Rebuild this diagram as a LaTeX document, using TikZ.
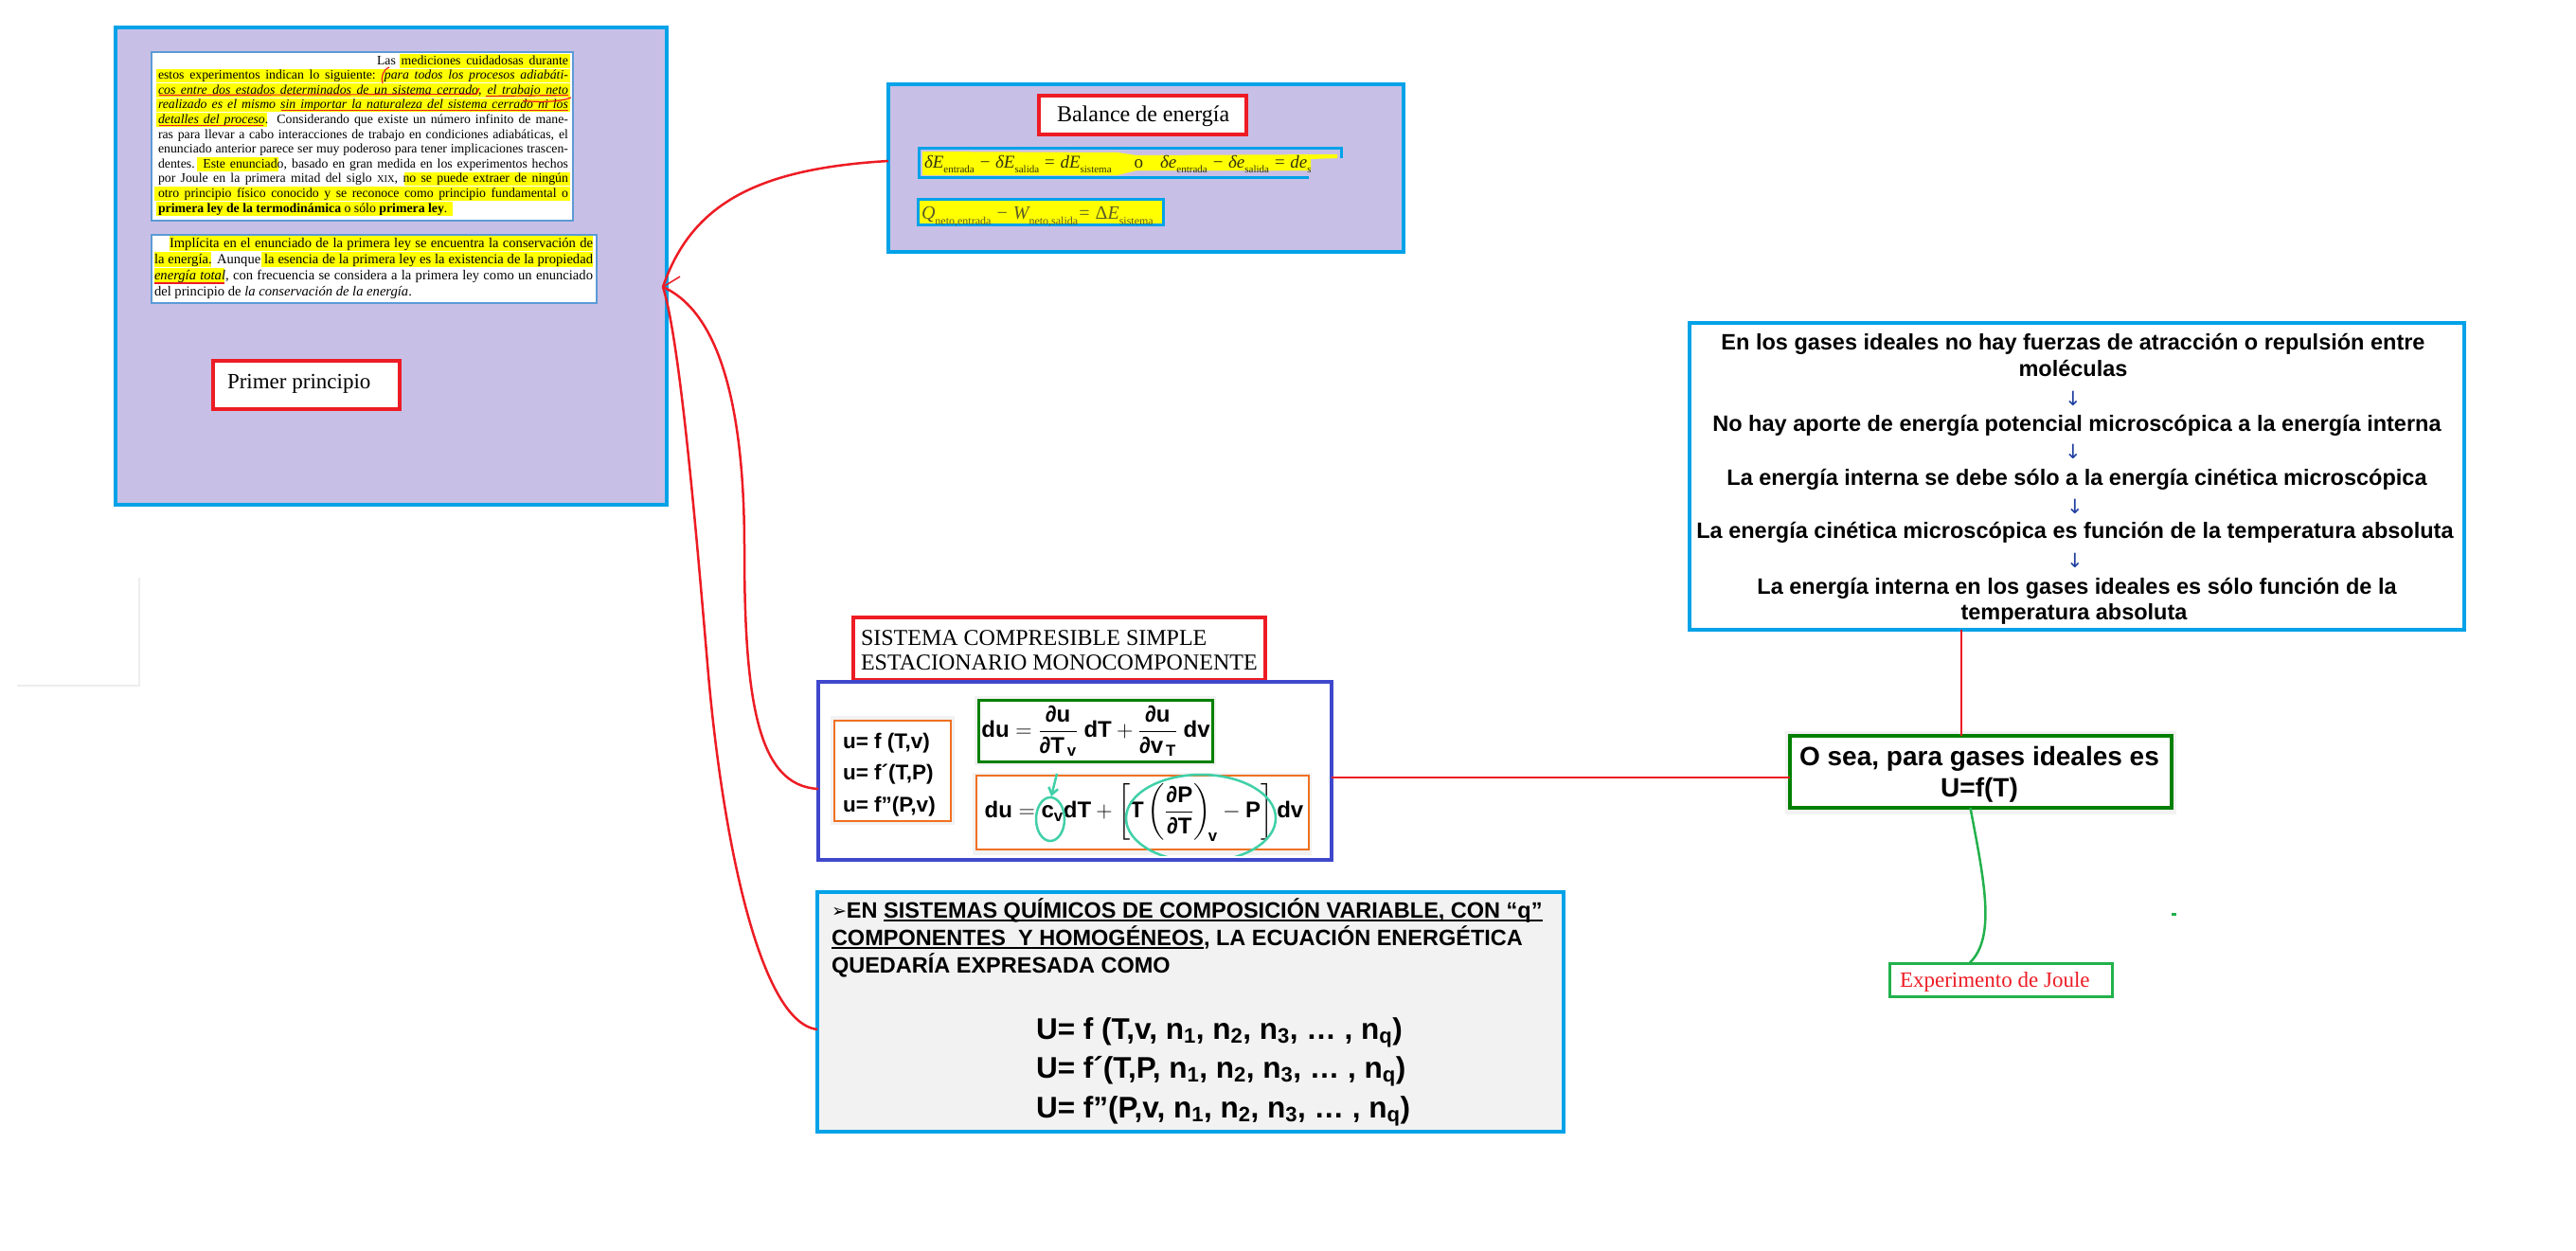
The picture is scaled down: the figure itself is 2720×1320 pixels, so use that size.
\RequirePackage{fix-cm}
\documentclass[tikz,border=0pt]{standalone}
\usepackage{fontspec}
\setmainfont{Liberation Serif}
\setsansfont{Liberation Sans}
\newfontfamily\symfont{DejaVu Sans}
\usepackage{amsmath}
\usetikzlibrary{fit,arrows.meta}

\definecolor{lav}{HTML}{C8BFE7}
\definecolor{cyanb}{HTML}{00A2E8}
\definecolor{redb}{HTML}{ED1C24}
\definecolor{indig}{HTML}{3F48CC}
\definecolor{orng}{HTML}{F07020}
\definecolor{dgreen}{HTML}{008000}
\definecolor{lgreen}{HTML}{22B14C}
\definecolor{tealc}{HTML}{40D0A8}
\definecolor{paleg}{HTML}{F2F2F2}
\definecolor{parline}{HTML}{5B9BD5}
\definecolor{hly}{HTML}{FFFF00}
\definecolor{navy}{HTML}{2040A0}
\definecolor{olivedk}{HTML}{34340E}
\definecolor{olivemd}{HTML}{5C5C28}

\newcommand\fsz[1]{\fontsize{#1}{#1}\selectfont}
% upright lowered index for the balance equations
\newcommand\subup[2]{\raisebox{-0.3em}{\upshape\fontsize{#1}{#1}\selectfont #2}}
% underline with a thick rule
\newsavebox\ulbox
\newcommand\ulx[1]{\sbox\ulbox{#1}\rlap{\rule[-3.8pt]{\wd\ulbox}{1.6pt}}\usebox\ulbox}

\begin{document}
\begin{tikzpicture}[x=1pt,y=-1pt,
  every node/.style={inner sep=0pt, outer sep=0pt},
  panel/.style={draw=cyanb, line width=4pt, fill=lav},
  parbox/.style={draw=parline, line width=1.2pt, fill=white},
  redbox/.style={draw=redb, line width=3.5pt, fill=white},
  indbox/.style={draw=indig, line width=3.5pt, fill=white},
  orbox/.style={draw=orng, line width=1.5pt, fill=white},
  gbox/.style={draw=dgreen, line width=3pt, fill=white},
  chembox/.style={draw=cyanb, line width=4pt, fill=paleg},
  gasbox/.style={draw=cyanb, line width=4pt, fill=white},
  resbox/.style={draw=dgreen, line width=4pt, fill=white},
  joulebox/.style={draw=lgreen, line width=3pt, fill=white},
  eqbox/.style={draw=cyanb, line width=3pt, fill=hly},
  hl/.style={fill=hly},
  pen/.style={draw=redb, line width=1.2pt},
  redcon/.style={draw=redb, line width=2.5pt},
  greencon/.style={draw=lgreen, line width=2.5pt},
  tealline/.style={draw=tealc, line width=2.5pt},
  tline/.style={anchor=base west, font=\fsz{13.8}},
  tlineb/.style={anchor=base west, font=\fsz{14.6}},
  gasline/.style={anchor=base, font=\sffamily\bfseries\fsz{23.5}},
  downarrow/.style={anchor=center, font=\symfont\fsz{21}, text=navy},
  chemline/.style={anchor=base west, font=\sffamily\bfseries\fsz{23.5}},
  fline/.style={anchor=base west, font=\sffamily\bfseries\fsz{31.5}},
  uline/.style={anchor=base west, font=\sffamily\bfseries\fsz{22.5}}
]
\useasboundingbox (0,0) rectangle (2720,1320);
\fill[white] (0,0) rectangle (2720,1320);

% faint frame fragment on the left
\draw[black!7, line width=2pt] (18,724) -- (147,724) -- (147,610);

% ---------------- Primer principio panel ----------------
\node[panel, fit={(122,29)(704,533)}] (panelA) {};
\node[parbox, fit={(160,55)(605,233)}] (parA) {};

% highlighter strokes, first paragraph
\fill[hl] (422,57) rectangle (602,71.5);
\fill[hl] (165,72.6) rectangle (602,87.1);
\fill[hl] (165,88.2) rectangle (602,102.7);
\fill[hl] (165,103.8) rectangle (602,118.3);
\fill[hl] (165,119.4) rectangle (282,133.9);
\fill[hl] (208,166.2) rectangle (294,180.7);
\fill[hl] (427,181.8) rectangle (602,196.3);
\fill[hl] (163,197.4) rectangle (602,211.9);
\fill[hl] (165,213) rectangle (478,227.5);

\node[tline] (a1) at (167,68) {\makebox[433pt][r]{\makebox[202pt][s]{Las mediciones cuidadosas durante}}};
\node[tline] (a2) at (167,83.6) {\makebox[433pt][s]{estos experimentos indican lo siguiente: \textit{para todos los procesos adiabáti-}}};
\node[tline] (a3) at (167,99.2) {\makebox[433pt][s]{\textit{cos entre dos estados determinados de un sistema cerrado, el trabajo neto}}};
\node[tline] (a4) at (167,114.8) {\makebox[433pt][s]{\textit{realizado es el mismo sin importar la naturaleza del sistema cerrado ni los}}};
\node[tline] (a5) at (167,130.4) {\makebox[433pt][s]{\textit{detalles del proceso}. Considerando que existe un número infinito de mane-}};
\node[tline] (a6) at (167,146) {\makebox[433pt][s]{ras para llevar a cabo interacciones de trabajo en condiciones adiabáticas, el}};
\node[tline] (a7) at (167,161.6) {\makebox[433pt][s]{enunciado anterior parece ser muy poderoso para tener implicaciones trascen-}};
\node[tline] (a8) at (167,177.2) {\makebox[433pt][s]{dentes. Este enunciado, basado en gran medida en los experimentos hechos}};
\node[tline] (a9) at (167,192.8) {\makebox[433pt][s]{por Joule en la primera mitad del siglo {\fsz{10.5}XIX}, no se puede extraer de ningún}};
\node[tline] (a10) at (167,208.4) {\makebox[433pt][s]{otro principio físico conocido y se reconoce como principio fundamental o}};
\node[tline] (a11) at (167,224) {\textbf{primera ley de la termodinámica} o sólo \textbf{primera ley}.};

% pen marks
\draw[pen] (411,71) .. controls (404,74) and (402,82) .. (404,88);
\draw[pen] (168,100.5) -- (503,99.5) .. controls (505,97) .. (506,93);
\draw[pen] (513,101.5) -- (600,100.5);
\draw[pen] (603,103) .. controls (590,108) and (570,108) .. (552,106.5);
\draw[pen] (297,116.5) -- (600,116.5);
\draw[pen] (168,132.5) -- (278,132.5);

\node[parbox, fit={(160,248)(630,320)}] (parB) {};
\fill[hl] (179,249) rectangle (626,265);
\fill[hl] (163,266) rectangle (223,282);
\fill[hl] (276,266) rectangle (626,282);
\fill[hl] (163,283) rectangle (237,299);
\node[tlineb] (b1) at (163,261) {\makebox[463pt][s]{\hspace*{16pt}Implícita en el enunciado de la primera ley se encuentra la conservación de}};
\node[tlineb] (b2) at (163,278) {\makebox[463pt][s]{la energía. Aunque la esencia de la primera ley es la existencia de la propiedad}};
\node[tlineb] (b3) at (163,295) {\makebox[463pt][s]{\textit{energía total}, con frecuencia se considera a la primera ley como un enunciado}};
\node[tlineb] (b4) at (163,312) {del principio de \textit{la conservación de la energía}.};
\draw[pen] (163,299) -- (237,299);

\node[redbox, fit={(225,381)(422,432)}] (primerBox) {};
\node[anchor=base west, font=\fsz{23}] (primerTxt) at (240,410) {Primer principio};

% ---------------- Balance de energía panel ----------------
\node[panel, fit={(938,89)(1482,266)}] (panelB) {};
\node[redbox, fit={(1097,101)(1316,142)}] (balBox) {};
\node[anchor=base west, font=\fsz{24}] (balTxt) at (1116,128) {Balance de energía};

\fill[hl] (974,160) -- (1180,161) -- (1200,164) -- (1412,163) -- (1412,167) -- (1384,168)
  -- (1384,180) -- (1200,180) -- (1180,185) -- (974,185) -- cycle;
\begin{scope}
  \clip (970,150) rectangle (1383,195);
  \node[anchor=base west, font=\fsz{19}\itshape, text=olivedk] (eqA) at (976,177)
    {δE\subup{11}{entrada} − δE\subup{11}{salida} = dE\subup{11}{sistema}\hspace{24pt}{\upshape o}\hspace{18pt}δe\subup{11}{entrada} − δe\subup{11}{salida} = de\subup{11}{sistema}};
\end{scope}
\draw[draw=cyanb, line width=3pt] (1382,187) -- (970,187) -- (970,156) -- (1416,156) -- (1416,167);

\node[eqbox, fit={(969,210)(1228,237)}] (eqBbox) {};
\node[anchor=base west, font=\fsz{20}\itshape, text=olivemd] (eqB) at (973,231)
  {Q\subup{12}{neto,entrada} − W\subup{12}{neto,salida}= {\upshape Δ}E\subup{12}{sistema}};

% ---------------- Sistema compresible simple ----------------
\node[redbox, fit={(901,652)(1336,718)}] (sysLbl) {};
\node[anchor=base west, font=\fsz{24}] (sys1) at (909,681) {SISTEMA COMPRESIBLE SIMPLE};
\node[anchor=base west, font=\fsz{24}] (sys2) at (909,707) {ESTACIONARIO MONOCOMPONENTE};

\node[indbox, fit={(864,720)(1406,908)}] (sysBox) {};
\fill[paleg] (877,756) rectangle (1008,871);
\fill[paleg] (1029,735) rectangle (1284,808);
\fill[paleg] (1027,816) rectangle (1385,903);
\node[orbox, fit={(881,761)(1004,867)}] (uBox) {};
\node[uline] (u1) at (890,790) {u= f (T,v)};
\node[uline] (u2) at (890,823.5) {u= f´(T,P)};
\node[uline] (u3) at (890,857) {u= f”(P,v)};

\node[gbox, fit={(1033,739)(1280,804)}] (duBox) {};
\node[font=\sffamily\bfseries\fsz{24}] (duA) at (1157,772)
  {$\displaystyle \text{du}=\frac{\text{∂u}}{\text{∂T}_{\,\text{v}}}\;\text{dT}+\frac{\text{∂u}}{\text{∂v}_{\,\text{T}}}\;\text{dv}$};

\node[orbox, fit={(1031,819)(1382,897)}] (du2Box) {};
\node[font=\sffamily\bfseries\fsz{24}] (duB) at (1208,858)
  {$\displaystyle \text{du}=\text{c}_{\text{v}}\text{dT}+\left[\text{T}\left(\frac{\text{∂P}}{\text{∂T}}\right)_{\!\text{v}}-\text{P}\right]\text{dv}$};

% pen marks on the second expression
\draw[tealline] (1109,865) ellipse [x radius=15pt, y radius=23pt];
\draw[tealline, -{Straight Barb[length=7pt,width=10pt]}] (1116,817) -- (1110,841);
\begin{scope}
  \clip (1180,805) rectangle (1360,903);
  \draw[tealline] (1268,864) ellipse [x radius=79pt, y radius=46pt];
\end{scope}

% ---------------- Sistemas químicos ----------------
\node[chembox, fit={(863,942)(1651,1195)}] (chemBox) {};
\node[chemline] (c1) at (878,969) {{\symfont\fsz{19}\raisebox{1pt}{➢}}EN \ulx{SISTEMAS QUÍMICOS DE COMPOSICIÓN VARIABLE, CON “q”}};
\node[chemline] (c2) at (878,998) {\ulx{COMPONENTES\ \ Y HOMOGÉNEOS}, LA ECUACIÓN ENERGÉTICA};
\node[chemline] (c3) at (878,1027) {QUEDARÍA EXPRESADA COMO};
\node[fline] (f1) at (1094,1097) {U= f (T,v, n\textsubscript{1}, n\textsubscript{2}, n\textsubscript{3}, … , n\textsubscript{q})};
\node[fline] (f2) at (1094,1138) {U= f´(T,P, n\textsubscript{1}, n\textsubscript{2}, n\textsubscript{3}, … , n\textsubscript{q})};
\node[fline] (f3) at (1094,1180) {U= f”(P,v, n\textsubscript{1}, n\textsubscript{2}, n\textsubscript{3}, … , n\textsubscript{q})};

% ---------------- Gases ideales ----------------
\node[gasbox, fit={(1784,341)(2602,665)}] (gasBox) {};
\node[gasline] (g1a) at (2189,369) {En los gases ideales no hay fuerzas de atracción o repulsión entre};
\node[gasline] (g1b) at (2189,397) {moléculas};
\node[downarrow] (ga1) at (2189,421) {↓};
\node[gasline] (g2) at (2193,455) {No hay aporte de energía potencial microscópica a la energía interna};
\node[downarrow] (ga2) at (2189,477) {↓};
\node[gasline] (g3) at (2193,512) {La energía interna se debe sólo a la energía cinética microscópica};
\node[downarrow] (ga3) at (2191,535) {↓};
\node[gasline] (g4) at (2191,568) {La energía cinética microscópica es función de la temperatura absoluta};
\node[downarrow] (ga4) at (2191,592) {↓};
\node[gasline] (g5a) at (2193,627) {La energía interna en los gases ideales es sólo función de la};
\node[gasline] (g5b) at (2190,654) {temperatura absoluta};

\fill[paleg] (1885,772) rectangle (2298,860);
\node[resbox, fit={(1890,777)(2293,853)}] (resBox) {};
\node[anchor=base, font=\sffamily\bfseries\fsz{28}] (r1) at (2090,808) {O sea, para gases ideales es};
\node[anchor=base, font=\sffamily\bfseries\fsz{28}] (r2) at (2090,841) {U=f(T)};

\node[joulebox, fit={(1995,1017)(2230,1052)}] (jouleBox) {};
\node[anchor=base west, font=\fsz{23}, text=redb] (jouleTxt) at (2006,1042) {Experimento de Joule};
\fill[lgreen] (2293,964) rectangle (2298,966.5);

% ---------------- connectors ----------------
\coordinate (hub) at (700,303);
\draw[redcon] (hub) .. controls (730,215) and (800,178) .. ([yshift=7.5pt]panelB.west);
\draw[redcon] (hub) .. controls (760,330) and (786,430) .. (786,579)
  .. controls (786,740) and (800,830) .. ([yshift=-19pt]sysBox.west);
\draw[redcon] (hub) .. controls (718,360) and (735,560) .. (747,701)
  .. controls (761,871) and (800,1080) .. ([yshift=-18.5pt]chemBox.west);
\draw[redcon, line width=1.5pt] (hub) -- (718,292);
\draw[redcon] ([yshift=-7pt]sysBox.east) -- ([yshift=-6pt]resBox.west);
\draw[redcon] ([xshift=-122pt]gasBox.south) -- ([xshift=-122pt]gasBox.south |- resBox.north);
\draw[greencon] ([xshift=-11pt]resBox.south) .. controls (2095,930) and (2108,990) .. ([xshift=-33pt]jouleBox.north);
\end{tikzpicture}
\end{document}
